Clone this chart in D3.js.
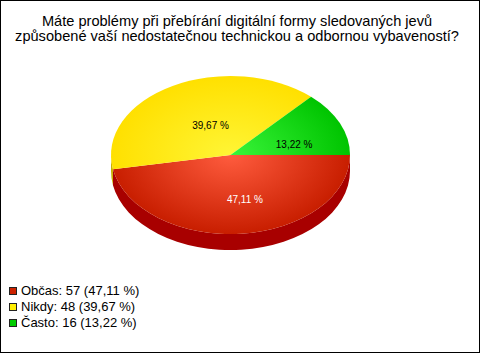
<!DOCTYPE html>
<html><head><meta charset="utf-8">
<script src="https://cdn.jsdelivr.net/npm/d3@7"></script>
<style>html,body{margin:0;padding:0;background:#fff}svg{display:block}</style>
</head><body>
<script>
const titleLines = ["Máte problémy při přebírání digitální formy sledovaných jevů",
                    "způsobené vaší nedostatečnou technickou a odbornou vybaveností?"];
const categories = ["Občas", "Nikdy", "Často"];
const counts = [57, 48, 16];
const percentLabels = ["47,11 %", "39,67 %", "13,22 %"];
const legendColors = ["#cc2200", "#ffee00", "#00cc00"];
const lightColors = ["#ff5c3e", "#fff535", "#3af53a"];
const edgeColors = ["#c81e00", "#ffe000", "#00c400"];
const sideColors = ["#a80000", "#c8b000", "#009000"];
const labelColors = ["#ffffff", "#000000", "#000000"];

const W = 480, H = 353;
const cx = 230.5, cy = 155, rx = 119.5, ry = 79, depth = 16;

const svg = d3.select("body").append("svg").attr("width", W).attr("height", H);
svg.append("rect").attr("x", 0.5).attr("y", 0.5).attr("width", W - 1).attr("height", H - 1)
  .attr("fill", "#fff").attr("stroke", "#000");

const title = svg.append("text").attr("font-family", "Liberation Sans, Arial, sans-serif")
  .attr("font-size", 14.6).attr("fill", "#000").attr("text-anchor", "middle");
titleLines.forEach((t, i) => title.append("tspan").attr("x", 237).attr("y", 26 + i * 15).text(t));

const pie = d3.pie().sort(null).startAngle(Math.PI / 2).endAngle(Math.PI / 2 + 2 * Math.PI);
const arcs = pie(counts);

const defs = svg.append("defs");
arcs.forEach((a, i) => {
  const g = defs.append("radialGradient").attr("id", "g" + i)
    .attr("gradientUnits", "userSpaceOnUse").attr("cx", 0).attr("cy", 0).attr("r", rx);
  g.append("stop").attr("offset", "0%").attr("stop-color", lightColors[i]);
  g.append("stop").attr("offset", "100%").attr("stop-color", edgeColors[i]);
});

const px = t => cx + rx * Math.sin(t);
const py = t => cy - ry * Math.cos(t);

// sides (front half only)
const sides = svg.append("g");
arcs.forEach((a, i) => {
  const lo = Math.PI / 2, hi = 3 * Math.PI / 2;
  const segs = [];
  [[a.startAngle, a.endAngle], [a.startAngle - 2 * Math.PI, a.endAngle - 2 * Math.PI]].forEach(([s, e]) => {
    const s2 = Math.max(s, lo), e2 = Math.min(e, hi);
    if (e2 > s2) segs.push([s2, e2]);
  });
  segs.forEach(([s, e]) => {
    const large = (e - s) > Math.PI ? 1 : 0;
    const d = `M${px(s)},${py(s)} A${rx},${ry} 0 ${large} 1 ${px(e)},${py(e)} ` +
      `L${px(e)},${py(e) + depth} A${rx},${ry} 0 ${large} 0 ${px(s)},${py(s) + depth} Z`;
    sides.append("path").attr("d", d).attr("fill", sideColors[i]);
  });
});

// tops
const arcGen = d3.arc().innerRadius(0).outerRadius(rx);
const tops = svg.append("g").attr("transform", `translate(${cx},${cy}) scale(1,${ry / rx})`);
tops.selectAll("path").data(arcs).join("path")
  .attr("d", arcGen).attr("fill", (d, i) => `url(#g${i})`);

// labels
const f = 0.5, dx = 9, dy = 5;
svg.append("g").selectAll("text").data(arcs).join("text")
  .attr("x", d => { const m = (d.startAngle + d.endAngle) / 2; return cx + f * rx * Math.sin(m) + dx; })
  .attr("y", d => { const m = (d.startAngle + d.endAngle) / 2; return cy - f * ry * Math.cos(m) + dy; })
  .attr("dy", "0.35em").attr("text-anchor", "middle")
  .attr("font-family", "Liberation Sans, Arial, sans-serif").attr("font-size", 10)
  .attr("fill", (d, i) => labelColors[i]).text((d, i) => percentLabels[i]);

// legend
const leg = svg.append("g");
categories.forEach((c, i) => {
  const y = 295 + i * 16;
  leg.append("rect").attr("x", 9.5).attr("y", y - 7.5).attr("width", 7).attr("height", 7)
    .attr("fill", legendColors[i]).attr("stroke", "#222").attr("stroke-width", 1);
  leg.append("text").attr("x", 21).attr("y", y)
    .attr("font-family", "Liberation Sans, Arial, sans-serif").attr("font-size", 13).attr("fill", "#000")
    .text(`${c}: ${counts[i]} (${percentLabels[i]})`);
});
</script>
</body></html>
